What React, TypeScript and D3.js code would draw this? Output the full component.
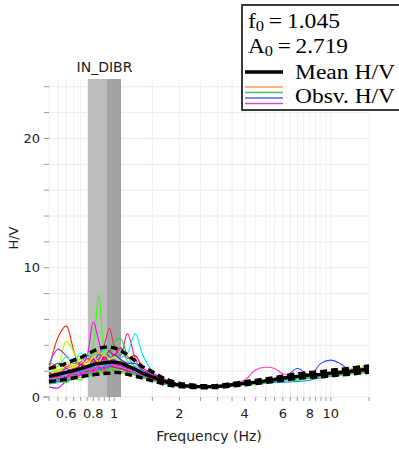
import React from 'react';
import * as d3 from 'd3';

// Frequency grid (Hz) shared by all curves
const FREQ = [0.5, 0.55, 0.6, 0.65, 0.7, 0.75, 0.8, 0.85, 0.9, 0.95, 1.0, 1.07, 1.15, 1.25, 1.35, 1.5, 1.7, 2.0, 2.5, 3.0, 3.5, 4.0, 4.5, 5.0, 5.5, 6.0, 7.0, 8.0, 9.0, 10, 11, 12.5, 14, 15];

const MEAN_HV = [1.6, 1.75, 1.9, 2.05, 2.2, 2.35, 2.5, 2.6, 2.65, 2.7, 2.7, 2.62, 2.4, 2.15, 1.85, 1.55, 1.2, 0.92, 0.8, 0.82, 0.95, 1.05, 1.15, 1.25, 1.35, 1.45, 1.6, 1.7, 1.75, 1.85, 1.9, 2.0, 2.1, 2.15];
const STD_UPPER = [2.2, 2.4, 2.6, 2.85, 3.05, 3.3, 3.55, 3.75, 3.85, 3.85, 3.8, 3.6, 3.25, 2.8, 2.35, 1.95, 1.45, 1.06, 0.88, 0.9, 1.05, 1.18, 1.29, 1.4, 1.51, 1.62, 1.79, 1.9, 1.96, 2.07, 2.13, 2.24, 2.35, 2.41];
const STD_LOWER = [1.18, 1.27, 1.37, 1.47, 1.57, 1.65, 1.72, 1.78, 1.82, 1.85, 1.9, 1.88, 1.75, 1.62, 1.45, 1.25, 1.0, 0.8, 0.72, 0.74, 0.85, 0.94, 1.03, 1.12, 1.2, 1.3, 1.43, 1.52, 1.56, 1.65, 1.7, 1.78, 1.88, 1.92];

const OBSERVED = [
  [2.1, 4.6, 5.5, 3.6, 2.2, 1.9, 2.6, 2.4, 2.0, 2.3, 2.6, 2.2, 2.0, 1.9, 1.7, 1.5, 1.2, 0.9, 0.8, 0.85, 0.95, 1.0, 1.1, 1.2, 1.3, 1.4, 1.5, 1.65, 1.7, 1.8, 1.9, 1.95, 2.1, 2.2],
  [1.4, 1.6, 1.9, 2.0, 2.1, 2.4, 4.0, 7.9, 3.6, 2.6, 2.5, 2.3, 2.1, 1.9, 1.6, 1.4, 1.1, 0.85, 0.78, 0.8, 0.9, 1.0, 1.1, 1.2, 1.3, 1.4, 1.55, 1.65, 1.7, 1.8, 1.85, 1.9, 2.0, 2.1],
  [1.3, 1.5, 1.8, 2.0, 2.3, 3.2, 5.8, 4.3, 2.8, 3.6, 2.8, 2.2, 2.0, 1.8, 1.6, 1.3, 1.0, 0.8, 0.75, 0.78, 0.9, 1.0, 1.1, 1.2, 1.3, 1.4, 1.5, 1.6, 1.7, 1.75, 1.8, 1.9, 2.0, 2.1],
  [1.7, 1.9, 2.0, 2.2, 2.4, 2.5, 2.6, 3.0, 4.0, 5.3, 4.0, 3.2, 4.9, 3.0, 2.0, 1.5, 1.2, 0.95, 0.82, 0.85, 0.95, 1.05, 1.15, 1.25, 1.35, 1.45, 1.6, 1.7, 1.75, 1.85, 1.95, 2.0, 2.1, 2.2],
  [1.5, 1.6, 1.8, 2.0, 2.2, 2.3, 2.4, 2.5, 2.6, 2.7, 2.8, 3.0, 3.4, 4.9, 3.3, 2.0, 1.3, 0.95, 0.8, 0.82, 0.95, 1.05, 1.15, 1.25, 1.35, 1.45, 1.55, 1.65, 1.7, 1.8, 1.9, 1.95, 2.05, 2.1],
  [1.8, 2.4, 4.3, 3.5, 2.3, 2.0, 2.3, 2.5, 2.4, 2.6, 2.5, 2.3, 2.2, 2.0, 1.7, 1.4, 1.15, 0.9, 0.8, 0.82, 0.92, 1.0, 1.1, 1.2, 1.3, 1.4, 1.5, 1.6, 1.65, 1.75, 1.85, 1.95, 2.05, 2.2],
  [1.2, 1.4, 1.6, 1.8, 2.0, 2.1, 2.2, 2.4, 2.7, 3.4, 4.3, 4.5, 3.2, 2.3, 1.8, 1.4, 1.1, 0.85, 0.75, 0.78, 0.9, 1.0, 1.1, 1.2, 1.3, 1.35, 1.3, 1.5, 1.6, 1.7, 1.75, 1.85, 1.95, 2.0],
  [2.5, 3.7, 3.2, 2.6, 2.7, 3.2, 3.0, 2.8, 3.0, 3.2, 2.9, 2.6, 2.4, 2.1, 1.8, 1.5, 1.2, 0.9, 0.78, 0.8, 0.95, 1.05, 1.1, 1.2, 1.3, 1.45, 1.55, 1.65, 1.75, 1.8, 1.9, 2.0, 2.1, 2.2],
  [1.4, 1.6, 1.7, 1.9, 2.2, 2.3, 2.2, 2.5, 2.8, 2.6, 2.5, 2.6, 2.3, 2.0, 1.8, 1.5, 1.2, 0.95, 0.82, 0.85, 1.05, 1.3, 2.1, 2.3, 2.2, 1.8, 1.6, 1.8, 1.8, 1.9, 2.0, 2.1, 2.2, 2.3],
  [1.3, 1.4, 1.5, 1.6, 1.8, 1.9, 2.0, 2.1, 2.2, 2.3, 2.3, 2.2, 2.0, 1.8, 1.6, 1.4, 1.15, 0.9, 0.78, 0.8, 0.9, 1.0, 1.05, 1.1, 1.2, 1.35, 2.2, 1.7, 2.6, 2.85, 2.6, 2.0, 2.1, 2.2],
  [1.6, 1.8, 2.0, 2.3, 2.5, 2.7, 2.6, 2.8, 2.7, 2.9, 3.0, 2.9, 2.6, 2.2, 1.9, 1.6, 1.3, 1.0, 0.85, 0.9, 1.0, 1.1, 1.2, 1.3, 1.4, 1.5, 1.6, 1.75, 1.8, 1.9, 2.0, 2.1, 2.3, 2.5],
  [1.7, 2.0, 2.2, 2.4, 2.6, 2.7, 3.2, 3.5, 3.0, 2.7, 2.6, 2.5, 2.4, 2.1, 1.8, 1.55, 1.25, 0.95, 0.82, 0.85, 0.98, 1.1, 1.2, 1.3, 1.4, 1.5, 1.6, 1.7, 1.75, 1.85, 1.95, 2.05, 2.15, 2.3],
  [1.0, 1.1, 1.3, 1.5, 1.7, 1.8, 1.9, 2.0, 2.1, 2.2, 2.3, 2.2, 2.0, 1.8, 1.6, 1.4, 1.1, 0.85, 0.75, 0.78, 0.9, 1.0, 1.1, 1.2, 1.3, 1.4, 1.5, 1.55, 1.6, 1.7, 1.75, 1.85, 1.9, 2.0],
  [0.8, 0.7, 1.2, 1.4, 1.7, 1.9, 2.0, 2.1, 2.3, 2.4, 2.5, 2.4, 2.2, 2.0, 1.8, 1.5, 1.2, 0.9, 0.78, 0.8, 0.9, 1.0, 1.05, 1.15, 1.25, 1.35, 1.45, 1.55, 1.65, 1.75, 1.85, 1.95, 2.0, 2.1],
  [1.9, 2.1, 2.3, 2.6, 3.0, 3.3, 3.4, 3.2, 3.5, 3.3, 3.1, 2.9, 2.7, 2.4, 2.0, 1.7, 1.35, 1.0, 0.85, 0.9, 1.0, 1.1, 1.2, 1.3, 1.4, 1.5, 1.25, 1.7, 1.85, 1.95, 2.0, 2.2, 2.3, 2.4],
  [1.5, 1.5, 1.6, 1.8, 2.0, 2.2, 2.3, 2.2, 2.4, 2.5, 2.6, 2.7, 2.5, 2.2, 1.9, 1.5, 1.2, 0.9, 0.78, 0.82, 0.95, 1.0, 1.05, 1.1, 1.15, 1.15, 1.2, 1.3, 1.5, 1.6, 1.7, 1.8, 1.9, 2.0],
  [1.1, 1.3, 1.5, 1.7, 1.8, 2.0, 2.1, 2.3, 2.2, 2.4, 2.3, 2.2, 2.0, 1.9, 1.7, 1.4, 1.1, 0.85, 0.75, 0.8, 0.9, 1.0, 1.1, 1.2, 1.3, 1.45, 1.55, 1.6, 1.7, 1.8, 1.9, 2.0, 2.1, 2.2],
  [1.4, 1.2, 1.5, 2.0, 1.9, 2.2, 2.6, 2.9, 3.4, 3.1, 2.8, 2.5, 2.3, 2.2, 1.9, 1.6, 1.3, 0.95, 0.8, 0.83, 0.95, 1.05, 1.15, 1.25, 1.35, 1.45, 1.55, 1.7, 1.75, 1.85, 1.95, 2.0, 2.2, 2.3],
  [2.8, 2.4, 3.1, 2.6, 3.4, 2.9, 3.6, 3.1, 3.8, 3.3, 3.0, 3.5, 2.8, 2.4, 2.0, 1.6, 1.3, 0.95, 0.8, 0.85, 1.0, 1.1, 1.2, 1.3, 1.4, 1.5, 1.65, 1.75, 1.8, 1.9, 2.0, 2.15, 2.3, 2.4],
  [1.2, 1.5, 1.3, 1.7, 1.5, 1.9, 1.7, 2.1, 1.9, 2.3, 2.0, 1.9, 1.8, 1.7, 1.5, 1.3, 1.05, 0.85, 0.75, 0.78, 0.88, 0.98, 1.05, 1.15, 1.25, 1.35, 1.45, 1.5, 1.6, 1.7, 1.75, 1.85, 1.9, 1.95],
  [1.9, 1.6, 2.2, 1.9, 2.5, 2.2, 2.9, 2.5, 3.1, 2.7, 3.3, 2.9, 2.6, 2.6, 2.1, 1.7, 1.3, 0.95, 0.82, 0.85, 0.95, 1.1, 1.15, 1.25, 1.35, 1.5, 1.6, 1.75, 1.8, 1.9, 2.0, 2.1, 2.2, 2.3],
  [1.0, 1.3, 1.1, 1.5, 1.3, 1.8, 1.6, 2.0, 1.8, 2.2, 2.1, 2.0, 1.9, 1.7, 1.5, 1.3, 1.0, 0.8, 0.72, 0.76, 0.88, 0.95, 1.0, 1.1, 1.2, 1.3, 1.4, 1.5, 1.55, 1.65, 1.7, 1.8, 1.85, 1.9],
  [2.2, 2.6, 2.3, 2.8, 2.5, 3.0, 2.7, 3.3, 2.9, 3.6, 3.2, 3.8, 3.0, 3.2, 2.3, 1.8, 1.4, 1.0, 0.85, 0.88, 1.0, 1.1, 1.2, 1.3, 1.4, 1.5, 1.6, 1.7, 1.8, 1.9, 2.0, 2.1, 2.2, 2.3],
  [1.6, 1.3, 1.9, 1.6, 2.1, 1.8, 2.4, 2.1, 2.6, 2.3, 2.7, 2.5, 2.3, 2.0, 1.8, 1.5, 1.2, 0.9, 0.78, 0.8, 0.92, 1.0, 1.1, 1.2, 1.25, 1.35, 1.5, 1.6, 1.7, 1.8, 1.85, 1.95, 2.05, 2.15],
  [2.4, 2.0, 2.7, 2.3, 2.9, 2.5, 3.1, 2.7, 3.4, 2.9, 3.1, 2.7, 2.5, 2.2, 1.9, 1.6, 1.25, 0.95, 0.82, 0.86, 0.98, 1.08, 1.18, 1.28, 1.38, 1.48, 1.6, 1.75, 1.8, 1.9, 2.05, 2.15, 2.3, 2.45],
  [1.3, 1.7, 1.4, 1.9, 1.7, 2.2, 1.9, 2.4, 2.1, 2.6, 2.4, 2.3, 2.1, 1.9, 1.7, 1.4, 1.1, 0.88, 0.76, 0.8, 0.9, 1.0, 1.1, 1.2, 1.3, 1.4, 1.5, 1.6, 1.65, 1.75, 1.85, 1.9, 2.0, 2.1],
];
const OBS_COLORS = ['#ff2a00', '#33ff00', '#ff00ff', '#ff2266', '#00e5ff', '#aaff00', '#00dd44', '#9933ff', '#ff40c0', '#3344ff', '#ffe600', '#ff8800', '#00ccaa', '#cc00ff', '#66ff33', '#0088ff', '#ee1111', '#dd22dd', '#00ffcc', '#ff6600', '#8800ff', '#00ff00', '#ff0066', '#3399ff', '#ccff00', '#ff33ff'];

const BAND_LIGHT = [0.757, 0.926];
const BAND_DARK = [0.926, 1.075];

const X_TICKS = [0.5, 0.55, 0.6, 0.65, 0.7, 0.75, 0.8, 0.85, 0.9, 0.95, 1, 1.5, 2, 2.5, 3, 3.5, 4, 4.5, 5, 5.5, 6, 6.5, 7, 7.5, 8, 8.5, 9, 9.5, 10, 15];
const X_LABELS = [0.6, 0.8, 1, 2, 4, 6, 8, 10];
const Y_TICKS = [0, 2, 4, 6, 8, 10, 12, 14, 16, 18, 20, 22, 24];
const Y_LABELS = [0, 10, 20];

const LEGEND_SWATCHES = ['#ff9955', '#55bb66', '#5566dd', '#bb55cc'];

export default function App() {
  const W = 399, H = 449;
  const x = d3.scaleLog().domain([0.5, 15]).range([49, 369]);
  const y = d3.scaleLinear().domain([0, 24.6]).range([397, 79]);
  const line = d3.line<number>()
    .x((_, i) => x(FREQ[i]))
    .y(d => y(d))
    .curve(d3.curveCatmullRom.alpha(0.5));
  const sans = 'DejaVu Sans, Verdana, sans-serif';
  const serif = 'Liberation Serif, Times New Roman, serif';
  const [y0, y1] = y.range();
  const [x0, x1] = x.range();

  return (
    <svg width={W} height={H} style={{ position: 'absolute', left: 0, top: 0, background: '#fff' }}>
      <rect x={0} y={0} width={W} height={H} fill="#fff" />
      {/* grid */}
      {Y_TICKS.map(t => (
        <line key={'gy' + t} x1={x0} x2={x1} y1={y(t)} y2={y(t)} stroke="#ebebeb" strokeWidth={1} />
      ))}
      {X_TICKS.map(t => (
        <line key={'gx' + t} x1={x(t)} x2={x(t)} y1={y0} y2={y1} stroke="#f0f0f0" strokeWidth={1} />
      ))}
      {/* bands */}
      <rect x={x(BAND_LIGHT[0])} width={x(BAND_LIGHT[1]) - x(BAND_LIGHT[0])} y={y1} height={y0 - y1} fill="#bdbdbd" />
      <rect x={x(BAND_DARK[0])} width={x(BAND_DARK[1]) - x(BAND_DARK[0])} y={y1} height={y0 - y1} fill="#a3a3a3" />
      <text x={(x(BAND_LIGHT[0]) + x(BAND_DARK[1])) / 2} y={72} textAnchor="middle" fontFamily={sans} fontSize={14} fill="#222">IN_DIBR</text>
      {/* observed curves */}
      {OBSERVED.map((c, i) => (
        <path key={'o' + i} d={line(c) || ''} fill="none" stroke={OBS_COLORS[i % OBS_COLORS.length]} strokeWidth={1.1} />
      ))}
      {/* std and mean */}
      <path d={line(STD_UPPER) || ''} fill="none" stroke="#000" strokeWidth={3.4} strokeDasharray="7,4" />
      <path d={line(STD_LOWER) || ''} fill="none" stroke="#000" strokeWidth={3.4} strokeDasharray="7,4" />
      <path d={line(MEAN_HV) || ''} fill="none" stroke="#000" strokeWidth={3.4} />
      {/* y axis */}
      {Y_TICKS.map(t => (
        <line key={'ty' + t} x1={x0 - 5} x2={x0} y1={y(t)} y2={y(t)} stroke="#999" strokeWidth={1} />
      ))}
      {Y_LABELS.map(t => (
        <text key={'ly' + t} x={x0 - 9} y={y(t)} dy="0.35em" textAnchor="end" fontFamily={sans} fontSize={13} fill="#222">{t}</text>
      ))}
      <text transform={`translate(18,${(y0 + y1) / 2}) rotate(-90)`} x={0} y={0} textAnchor="middle" fontFamily={sans} fontSize={13} fill="#222">H/V</text>
      {/* x axis */}
      <line x1={x0 - 6} x2={x0} y1={y0} y2={y0} stroke="#999" />
      {X_TICKS.map(t => (
        <line key={'tx' + t} x1={x(t)} x2={x(t)} y1={y0} y2={y0 + 4} stroke="#999" strokeWidth={1} />
      ))}
      {X_LABELS.map(t => (
        <text key={'lx' + t} x={x(t)} y={418} textAnchor="middle" fontFamily={sans} fontSize={13} fill="#222">{t}</text>
      ))}
      <text x={209} y={441} textAnchor="middle" fontFamily={sans} fontSize={14} fill="#222">Frequency (Hz)</text>
      {/* legend */}
      <rect x={242} y={5} width={170} height={105} fill="#fff" stroke="#3a3a3a" strokeWidth={2} />
      <text x={248} y={28} fontFamily={serif} fontSize={20} fill="#000" textLength={92} lengthAdjust="spacingAndGlyphs">
        <tspan>f</tspan><tspan fontSize={14} dy={3}>0</tspan><tspan dy={-3}>{'\u2009=\u20091.045'}</tspan>
      </text>
      <text x={248} y={53} fontFamily={serif} fontSize={20} fill="#000" textLength={100} lengthAdjust="spacingAndGlyphs">
        <tspan>A</tspan><tspan fontSize={14} dy={3}>0</tspan><tspan dy={-3}>{'\u2009=\u20092.719'}</tspan>
      </text>
      <line x1={245} x2={283} y1={72} y2={72} stroke="#000" strokeWidth={3.5} />
      <text x={295} y={79} fontFamily={serif} fontSize={20} fill="#000" textLength={100} lengthAdjust="spacingAndGlyphs">Mean H/V</text>
      {LEGEND_SWATCHES.map((c, i) => (
        <line key={'sw' + i} x1={245} x2={283} y1={87 + i * 5.5} y2={87 + i * 5.5} stroke={c} strokeWidth={1.5} />
      ))}
      <text x={295} y={103} fontFamily={serif} fontSize={20} fill="#000" textLength={100} lengthAdjust="spacingAndGlyphs">Obsv. H/V</text>
    </svg>
  );
}
